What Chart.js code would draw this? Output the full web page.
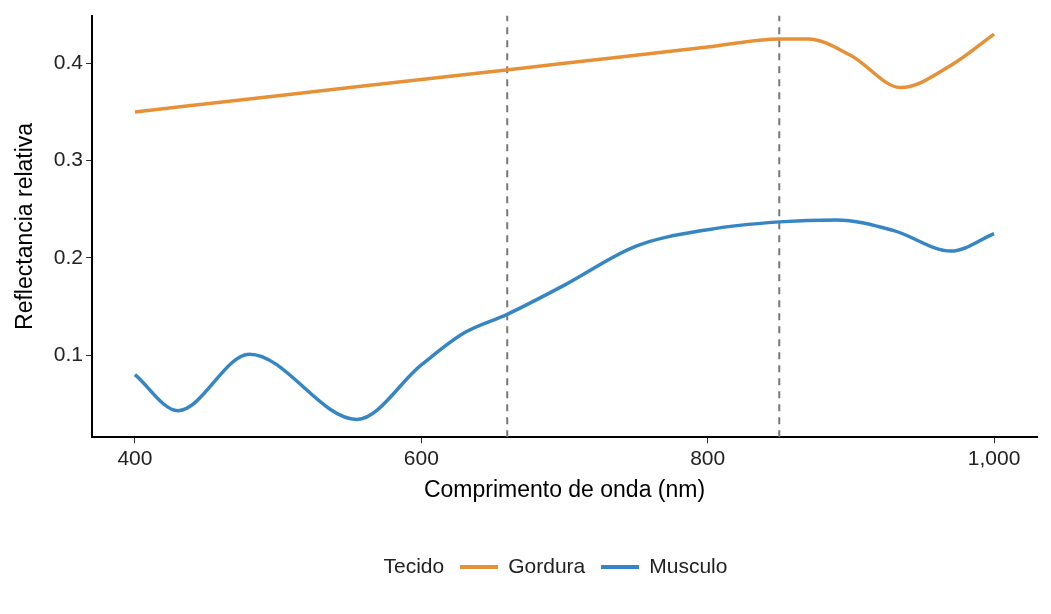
<!DOCTYPE html>
<html><head><meta charset="utf-8">
<script src="https://cdn.jsdelivr.net/npm/chart.js@4"></script>
<style>
body{margin:0;background:#fff;font-family:Arial,"Liberation Sans",sans-serif}
#wrap{position:relative;width:1051px;height:614px}
#leg{position:absolute;top:554px;left:30px;width:1051px;text-align:center;font-size:21px;color:#222}
#leg span.sw{display:inline-block;width:38px;height:4px;vertical-align:middle;margin:0 10px 0 16px}
</style></head><body>
<div id="wrap"><canvas id="c" width="1051" height="614"></canvas>
<div id="leg">Tecido<span class="sw" style="background:#E69138"></span>Gordura<span class="sw" style="background:#3686C3"></span>Musculo</div></div>
<script>
const gorduraX=[400,500,600,700,800,850,870,900,935,970,1000];
const gorduraY=[0.350,0.3667,0.3833,0.400,0.4167,0.425,0.425,0.408,0.375,0.398,0.430];
const musculoX=[400,430,480,555,600,630,660,700,750,800,850,890,930,970,1000];
const musculoY=[0.080,0.043,0.101,0.034,0.090,0.123,0.142,0.172,0.212,0.229,0.237,0.239,0.228,0.207,0.225];
const vlines=[660,850];
const pts=(xs,ys)=>xs.map((x,i)=>({x:x,y:ys[i]}));
const ds=[
 {data:pts(gorduraX,gorduraY),borderColor:'#E69138',borderWidth:3.5,cubicInterpolationMode:'monotone',pointRadius:0},
 {data:pts(musculoX,musculoY),borderColor:'#3686C3',borderWidth:3.5,cubicInterpolationMode:'monotone',pointRadius:0}
];
vlines.forEach(v=>ds.push({data:[{x:v,y:0.0157},{x:v,y:0.449}],borderColor:'#777',borderWidth:2,borderDash:[7,6],pointRadius:0}));
new Chart(document.getElementById('c'),{type:'line',data:{datasets:ds},
options:{responsive:false,animation:false,
 layout:{padding:{left:8,right:14,top:15,bottom:106}},
 plugins:{legend:{display:false},tooltip:{enabled:false}},
 scales:{
  x:{type:'linear',min:370,max:1030,grid:{drawOnChartArea:false,drawTicks:true,tickLength:6,color:'#333'},
     border:{color:'#000',width:2},
     ticks:{color:'#222',font:{size:21}},
     afterBuildTicks:a=>{a.ticks=[400,600,800,1000].map(v=>({value:v}))},
     title:{display:true,text:'Comprimento de onda (nm)',color:'#000',font:{size:23},padding:{top:2}}},
  y:{min:0.0157,max:0.449,grid:{drawOnChartArea:false,tickLength:6,color:'#333'},
     border:{color:'#000',width:2},
     afterBuildTicks:a=>{a.ticks=[0.1,0.2,0.3,0.4].map(v=>({value:v}))},
     afterFit:a=>{a.width=84},
     ticks:{color:'#222',font:{size:21},callback:v=>v.toFixed(1)},
     title:{display:true,text:'Reflectancia relativa',color:'#000',font:{size:23}}}
 }}});
</script></body></html>
